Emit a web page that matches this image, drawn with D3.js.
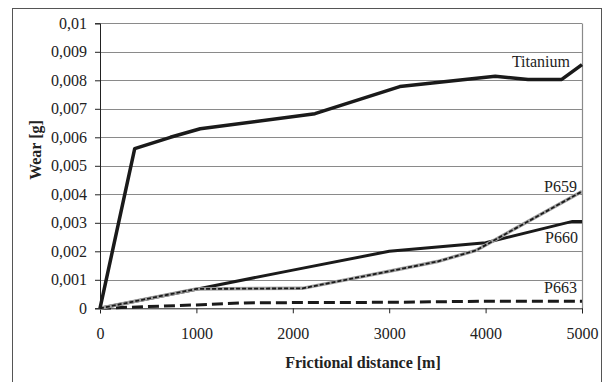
<!DOCTYPE html>
<html>
<head>
<meta charset="utf-8">
<script src="https://cdn.jsdelivr.net/npm/d3@7"></script>
<style>
  body { margin: 0; background: #fff; }
  svg text { fill: #222; }
</style>
</head>
<body>
<svg id="chart" width="607" height="382"></svg>
<script>
// ---- data ----
const xTicks = [0, 1000, 2000, 3000, 4000, 5000];
const yTicks = [0, 0.001, 0.002, 0.003, 0.004, 0.005, 0.006, 0.007, 0.008, 0.009, 0.01];
const yTickLabels = ["0", "0,001", "0,002", "0,003", "0,004", "0,005", "0,006", "0,007", "0,008", "0,009", "0,01"];

const titaniumX = [0, 360, 730, 1040, 2230, 3110, 4100, 4440, 4790, 5000];
const titaniumY = [0, 0.0056, 0.0060, 0.0063, 0.00683, 0.00778, 0.00814, 0.00803, 0.00803, 0.00855];

const p660X = [0, 1000, 2000, 3000, 4000, 4900, 5000];
const p660Y = [0, 0.00067, 0.00134, 0.0020, 0.0023, 0.00305, 0.00305];

const p659X = [0, 1000, 2100, 3000, 3500, 3900, 5000];
const p659Y = [0, 0.00068, 0.0007, 0.0013, 0.00164, 0.00203, 0.0041];

const p663X = [0, 1000, 1500, 2000, 3000, 4000, 5000];
const p663Y = [0, 0.00012, 0.00019, 0.0002, 0.00021, 0.00025, 0.00025];

const seriesNames = ["Titanium", "P659", "P660", "P663"];

// ---- layout ----
const FONT = "'Liberation Serif', 'Times New Roman', Times, 'DejaVu Serif', serif";
const svg = d3.select("#chart");
const mLeft = 100, mRight = 582, mTop = 23.3, mBottom = 308.3;
const x = d3.scaleLinear().domain([0, 5000]).range([mLeft, mRight]);
const y = d3.scaleLinear().domain([0, 0.01]).range([mBottom, mTop]);

// outer frame
svg.append("rect").attr("x", 12.5).attr("y", 8.5).attr("width", 589).attr("height", 380)
  .attr("fill", "none").attr("stroke", "#555").attr("stroke-width", 1);

// gridlines
svg.append("g").selectAll("line").data(yTicks.slice(1)).join("line")
  .attr("x1", mLeft).attr("x2", mRight)
  .attr("y1", d => Math.round(y(d)) + 0.5).attr("y2", d => Math.round(y(d)) + 0.5)
  .attr("stroke", "#8a8a8a").attr("stroke-width", 1.2);
// right border of plot area
svg.append("line").attr("x1", mRight + 0.5).attr("x2", mRight + 0.5).attr("y1", Math.round(mTop) + 0.5).attr("y2", mBottom)
  .attr("stroke", "#8a8a8a").attr("stroke-width", 1.2);

// y axis
const yAxis = d3.axisLeft(y).tickValues(yTicks).tickFormat((d, i) => yTickLabels[i]).tickSize(5).tickPadding(8);
const gy = svg.append("g").attr("transform", `translate(${mLeft},0)`).call(yAxis);
gy.attr("font-family", null).attr("font-size", null);
gy.selectAll("text").style("font-family", FONT).style("font-size", "16px");
gy.select(".domain").attr("stroke", "#222");
gy.selectAll(".tick line").attr("stroke", "#222");

// x axis
const xAxis = d3.axisBottom(x).tickValues(xTicks).tickFormat(d3.format("d")).tickSize(5).tickPadding(14);
const gx = svg.append("g").attr("transform", `translate(0,${mBottom})`).call(xAxis);
gx.attr("font-family", null).attr("font-size", null);
gx.selectAll("text").style("font-family", FONT).style("font-size", "16px");
gx.select(".domain").attr("stroke", "#222");
gx.selectAll(".tick line").attr("stroke", "#222");

// axis titles
svg.append("text").attr("x", 363).attr("y", 368).attr("text-anchor", "middle")
  .style("font-family", FONT).style("font-size", "16px").style("font-weight", "bold").text("Frictional distance [m]");
svg.append("text").attr("transform", "translate(41,150) rotate(-90)").attr("text-anchor", "middle")
  .style("font-family", FONT).style("font-size", "16px").style("font-weight", "bold").text("Wear [g]");

// lines
const line = d3.line().x(d => x(d[0])).y(d => y(d[1]));
const zipS = (xs, ys) => xs.map((v, i) => [v, ys[i]]);

const g = svg.append("g").attr("fill", "none");
// P663 long dashed
g.append("path").attr("d", line(zipS(p663X, p663Y)))
  .attr("stroke", "#1a1a1a").attr("stroke-width", 3).attr("stroke-dasharray", "11,5");
// P660 solid
g.append("path").attr("d", line(zipS(p660X, p660Y)))
  .attr("stroke", "#1a1a1a").attr("stroke-width", 3);
// P659 grey with black dashes
g.append("path").attr("d", line(zipS(p659X, p659Y)))
  .attr("stroke", "#a0a0a0").attr("stroke-width", 3.5);
g.append("path").attr("d", line(zipS(p659X, p659Y)))
  .attr("stroke", "#1a1a1a").attr("stroke-width", 1.8).attr("stroke-dasharray", "4,2");
// Titanium
g.append("path").attr("d", line(zipS(titaniumX, titaniumY)))
  .attr("stroke", "#1a1a1a").attr("stroke-width", 3.5).attr("stroke-linejoin", "round");

// series labels
const labelPos = [[570, 67], [577, 192], [578, 243], [577, 293]];
svg.append("g").selectAll("text").data(seriesNames).join("text")
  .attr("x", (d, i) => labelPos[i][0]).attr("y", (d, i) => labelPos[i][1])
  .attr("text-anchor", "end").style("font-family", FONT).style("font-size", "16px").text(d => d);
</script>
</body>
</html>
